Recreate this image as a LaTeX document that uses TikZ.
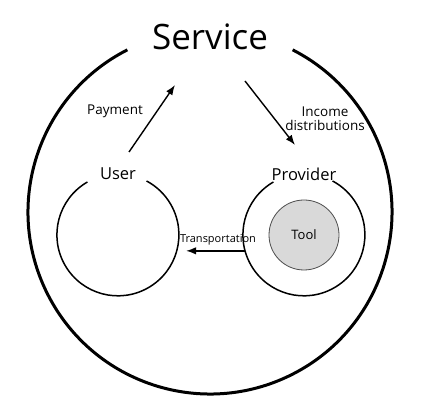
\documentclass[tikz,border=0pt]{standalone}
\usepackage{fontspec}
\setmainfont{Open Sans}
\usetikzlibrary{arrows.meta}
\begin{document}
\begin{tikzpicture}[x=1pt,y=1pt,
  lbl/.style={inner sep=0pt, text=black},
  ring/.style={circle, minimum size=122pt, inner sep=0pt},
  flow/.style={line width=1.4pt, -{Latex[length=10pt,width=7.5pt]}}]
\useasboundingbox (0,0) rectangle (426,418);
% outer service circle
\coordinate (svc) at (210,206);
\draw[line width=3pt] (svc) ++(117:182) arc[start angle=117, end angle=423, radius=182];
\node[lbl, font=\fontsize{35}{40}\selectfont] (service) at (210,381) {Service};
% user
\node[ring] (user) at (118,183) {};
\draw[line width=1.5pt] (user.120) arc[start angle=120, end angle=422, radius=61];
\node[lbl, font=\fontsize{16.5}{19}\selectfont] (userlbl) at (118,244) {User};
% provider
\node[ring] (prov) at (304,183) {};
\draw[line width=1.5pt] (prov.120) arc[start angle=120, end angle=422, radius=61];
\node[lbl, font=\fontsize{16.5}{19}\selectfont] (provlbl) at (304,244) {Provider};
% tool
\node[circle, minimum size=70pt, inner sep=0pt, fill=black!15, draw=black!70, line width=0.8pt,
  font=\fontsize{13}{15}\selectfont] (tool) at (304,183) {Tool};
% arrows
\coordinate (payS) at (129,266);
\coordinate (payE) at (175,333);
\coordinate (incS) at (245,337);
\coordinate (incE) at (295,273);
\draw[flow] (payS) -- (payE);
\draw[flow] (incS) -- (incE);
\draw[flow, shorten >=9pt] (prov.195) -- (user.-15);
\node[lbl, font=\fontsize{13.5}{16}\selectfont] (paylbl) at (115,307) {Payment};
\node[lbl, font=\fontsize{13.5}{16}\selectfont, align=center] (inclbl) at (325,299) {Income\\[-2pt]distributions};
\node[lbl, font=\fontsize{11}{13}\selectfont] (translbl) at (218,178) {Transportation};
\end{tikzpicture}
\end{document}
